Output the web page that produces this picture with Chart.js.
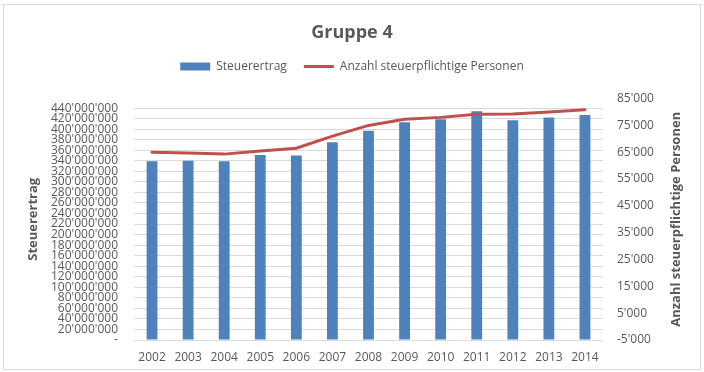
<!DOCTYPE html>
<html><head><meta charset="utf-8">
<script src="https://cdn.jsdelivr.net/npm/chart.js@4.4.1/dist/chart.umd.min.js"></script>
<style>
html,body{margin:0;padding:0;background:#fff;}
#wrap{position:relative;width:704px;height:372px;overflow:hidden;}
#frame{position:absolute;left:3px;top:4px;width:696px;height:364px;border:1px solid #d9d9d9;}
canvas{position:absolute;left:0;top:0;}
</style></head>
<body><div id="wrap"><div id="frame"></div><canvas id="c" width="704" height="372"></canvas></div>
<script>
const years = ['2002','2003','2004','2005','2006','2007','2008','2009','2010','2011','2012','2013','2014'];
const steuerertrag = [339e6, 340e6, 339e6, 351e6, 350e6, 375e6, 397e6, 413e6, 419e6, 434e6, 417e6, 422e6, 427e6];
const personen = [65000, 64700, 64300, 65500, 66500, 71000, 75000, 77300, 78000, 79200, 79300, 80000, 80800];
const leftTickValues = [0, 20e6, 40e6, 60e6, 80e6, 100e6, 120e6, 140e6, 160e6, 180e6, 200e6, 220e6,
  240e6, 260e6, 280e6, 300e6, 320e6, 340e6, 360e6, 380e6, 400e6, 420e6, 440e6];
const rightTickValues = [-5000, 5000, 15000, 25000, 35000, 45000, 55000, 65000, 75000, 85000];
const leftMax = 458e6;
const titleText = 'Gruppe 4';
const leftTitle = 'Steuerertrag';
const rightTitle = 'Anzahl steuerpflichtige Personen';

const TXT = '#595959';
Chart.defaults.font.family = "'Open Sans', sans-serif";
Chart.defaults.color = TXT;

function fmt(v) {
  if (v === 0) return '-';
  return String(Math.round(v)).replace(/\B(?=(\d{3})+(?!\d))/g, "'");
}

const rightTitlePlugin = {
  id: 'rightTitle',
  afterDraw(chart) {
    const {ctx, chartArea} = chart;
    ctx.save();
    ctx.translate(676, (chartArea.top + chartArea.bottom) / 2);
    ctx.rotate(-Math.PI / 2);
    ctx.font = "bold 13px 'Open Sans', sans-serif";
    ctx.fillStyle = TXT;
    ctx.textAlign = 'center';
    ctx.textBaseline = 'middle';
    ctx.fillText(rightTitle, 0, 0);
    ctx.restore();
  }
};

const spacerPlugin = {
  id: 'spacer',
  beforeInit(chart) {
    const box = {
      position: 'top', weight: -10, fullSize: true, options: {},
      left: 0, top: 0, right: 0, bottom: 0, width: 0, height: 0,
      isHorizontal() { return true; },
      update(maxWidth) { this.width = maxWidth; this.height = 16; },
      draw() {}
    };
    Chart.layouts.addBox(chart, box);
  }
};

new Chart(document.getElementById('c'), {
  data: {
    labels: years,
    datasets: [
      {type: 'bar', label: 'Steuerertrag', data: steuerertrag, yAxisID: 'y',
       backgroundColor: '#4f81bd', borderWidth: 0, barPercentage: 0.3, categoryPercentage: 1,
       pointStyle: 'rect', order: 1},
      {type: 'line', label: 'Anzahl steuerpflichtige Personen', data: personen, yAxisID: 'y1',
       borderColor: '#c0504d', backgroundColor: '#c0504d', borderWidth: 3, pointRadius: 0,
       borderCapStyle: 'round', tension: 0, pointStyle: 'line', order: 0}
    ]
  },
  options: {
    responsive: false,
    animation: false,
    layout: {padding: 0},
    plugins: {
      tooltip: {enabled: false},
      title: {display: true, text: titleText, color: TXT,
        font: {size: 18, weight: 'bold'}, padding: {top: 22, bottom: 0}},
      legend: {display: true, position: 'top',
        labels: {usePointStyle: true, pointStyleWidth: 30, boxHeight: 8, padding: 17,
          color: TXT, font: {size: 12},
          sort: (a, b) => a.datasetIndex - b.datasetIndex}}
    },
    scales: {
      x: {
        grid: {display: false, drawTicks: false},
        border: {display: false},
        ticks: {padding: 10, maxRotation: 0, autoSkip: false, color: TXT, font: {size: 12}},
        afterFit: s => { s.height = 32; }
      },
      y: {
        position: 'left', min: 0, max: leftMax,
        afterBuildTicks: a => { a.ticks = leftTickValues.map(v => ({value: v})); },
        ticks: {autoSkip: false, padding: 16, callback: v => fmt(v), color: TXT, font: {size: 12}},
        grid: {color: '#d9d9d9', drawTicks: false},
        border: {display: false},
        title: {display: true, text: leftTitle, color: TXT, font: {size: 13, weight: 'bold'},
          padding: {top: 25, bottom: 0}},
        afterFit: s => { s.width = 134; }
      },
      y1: {
        position: 'right', min: rightTickValues[0], max: rightTickValues[rightTickValues.length - 1],
        afterBuildTicks: a => { a.ticks = rightTickValues.map(v => ({value: v})); },
        ticks: {autoSkip: false, padding: 14, callback: v => fmt(v), color: TXT, font: {size: 12}},
        grid: {display: false, drawTicks: false},
        border: {display: false},
        afterFit: s => { s.width = 101; }
      }
    }
  },
  plugins: [rightTitlePlugin, spacerPlugin]
});
</script>
</body></html>
